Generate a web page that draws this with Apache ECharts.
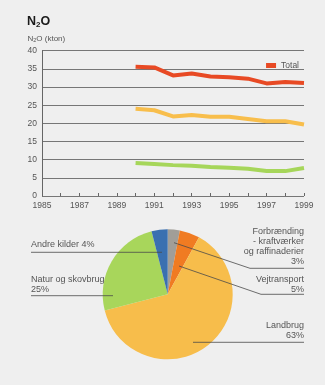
<!DOCTYPE html>
<html>
<head>
<meta charset="utf-8">
<script src="https://cdn.jsdelivr.net/npm/echarts@6/dist/echarts.min.js"></script>
<style>
  html, body { margin: 0; padding: 0; background: #efefef; }
  #chart { width: 325px; height: 385px; }
</style>
</head>
<body>
<div id="chart"></div>
<script>
// N2O emissions 1990-1999 (kton) and source shares
var years = [1990, 1991, 1992, 1993, 1994, 1995, 1996, 1997, 1998, 1999];
var totalValues = [35.6, 35.4, 33.2, 33.7, 32.9, 32.7, 32.3, 31.0, 31.4, 31.1];
var landbrugValues = [24.0, 23.6, 21.9, 22.3, 21.8, 21.8, 21.2, 20.6, 20.6, 19.7];
var naturValues = [9.1, 8.8, 8.5, 8.3, 8.0, 7.8, 7.5, 6.9, 6.85, 7.7];

var sourceNames = ['Forbrænding\n- kraftværker\nog raffinaderier', 'Vejtransport', 'Landbrug', 'Natur og skovbrug', 'Andre kilder'];
var sourceShares = [3, 5, 63, 25, 4];
var sourceColors = ['#a19e98', '#f07b22', '#f7bd4b', '#a8d65b', '#3a70b0'];

function pairs(vals) {
  return years.map(function (y, i) { return [y, vals[i]]; });
}

var textColor = '#555';
var fontFam = '"Liberation Sans", Arial, sans-serif';

// label placement for the pie annotations (text box and leader polyline)
var pieLabelLayout = [
  { x: 304, y: 227, align: 'right', pts: [[174, 242.7], [250, 268.3], [304, 268.3]] },
  { x: 304, y: 274.5, align: 'right', pts: [[179, 266], [261, 294.3], [304, 294.3]] },
  { x: 304, y: 320.5, align: 'right', pts: [[193, 342.3], [304, 342.3]] },
  { x: 31, y: 274.5, align: 'left', pts: [[113, 295.7], [31, 295.7]] },
  { x: 31, y: 239.5, align: 'left', pts: [[162, 252.3], [31, 252.3]] }
];

var leaderLines = pieLabelLayout.map(function (L) {
  return {
    type: 'polyline', silent: true, z: 10,
    shape: { points: L.pts },
    style: { stroke: '#4a4a4a', lineWidth: 0.8, fill: null }
  };
});

var chart = echarts.init(document.getElementById('chart'), null, { renderer: 'canvas' });

chart.setOption({
  backgroundColor: '#efefef',
  animation: false,
  textStyle: { fontFamily: fontFam },
  graphic: [
    {
      type: 'text', left: 27, top: 14, silent: true,
      style: {
        text: '{a|N}{s|2}{a|O}',
        rich: {
          a: { fontSize: 12.5, fontWeight: 'bold', fill: '#1a1a1a', fontFamily: fontFam, lineHeight: 14 },
          s: { fontSize: 8, fontWeight: 'bold', fill: '#1a1a1a', fontFamily: fontFam, padding: [7, 0, 0, 0], lineHeight: 14 }
        }
      }
    },
    {
      type: 'text', left: 27.5, top: 34, silent: true,
      style: {
        text: '{a|N}{s|2}{a|O (kton)}',
        rich: {
          a: { fontSize: 8, fill: textColor, fontFamily: fontFam, lineHeight: 9 },
          s: { fontSize: 5.5, fill: textColor, fontFamily: fontFam, padding: [3, 0, 0, 0], lineHeight: 9 }
        }
      }
    }
  ].concat(leaderLines),
  legend: {
    data: ['Total'],
    right: 21, top: 56,
    itemWidth: 10, itemHeight: 5,
    itemGap: 3,
    icon: 'rect',
    textStyle: { fontSize: 8.5, color: textColor }
  },
  grid: { left: 42, right: 21, top: 50.7, bottom: 189, containLabel: false },
  xAxis: {
    type: 'value',
    min: 1985, max: 1999, interval: 1,
    axisLine: { show: false },
    axisTick: { show: true, length: 3, inside: true, lineStyle: { color: '#666', width: 1 } },
    splitLine: { show: false },
    axisLabel: {
      color: textColor, fontSize: 8.5, margin: 5,
      formatter: function (v) { return v % 2 === 1 ? String(v) : ''; }
    }
  },
  yAxis: {
    type: 'value',
    min: 0, max: 40, interval: 5,
    axisLine: { show: true, lineStyle: { color: '#666', width: 1 } },
    axisTick: { show: false },
    splitLine: { show: true, lineStyle: { color: '#767676', width: 1 } },
    axisLabel: { color: textColor, fontSize: 8.5, margin: 5 }
  },
  series: [
    {
      name: 'Total', type: 'line', data: pairs(totalValues),
      symbol: 'none', lineStyle: { width: 4, color: '#e84a24' }, itemStyle: { color: '#e84a24' }
    },
    {
      name: 'Landbrug', type: 'line', data: pairs(landbrugValues),
      symbol: 'none', lineStyle: { width: 4, color: '#f8be4c' }, itemStyle: { color: '#f8be4c' }
    },
    {
      name: 'Natur og skovbrug', type: 'line', data: pairs(naturValues),
      symbol: 'none', lineStyle: { width: 4, color: '#a6d65a' }, itemStyle: { color: '#a6d65a' }
    },
    {
      name: 'Kilder', type: 'pie',
      center: [167.7, 294.3], radius: 65,
      startAngle: 90, clockwise: true,
      data: sourceNames.map(function (n, i) {
        return { name: n, value: sourceShares[i], itemStyle: { color: sourceColors[i] } };
      }),
      label: {
        show: true,
        color: textColor, fontSize: 9, lineHeight: 10,
        overflow: 'none',
        formatter: function (p) {
          if (p.dataIndex === 4) return p.name + ' ' + p.value + '%';
          return p.name + '\n' + p.value + '%';
        }
      },
      labelLine: { show: false },
      labelLayout: function (params) {
        var L = pieLabelLayout[params.dataIndex];
        return { x: L.x, y: L.y, align: L.align, verticalAlign: 'top', width: 120 };
      },
      emphasis: { disabled: true }
    }
  ]
});
</script>
</body>
</html>
